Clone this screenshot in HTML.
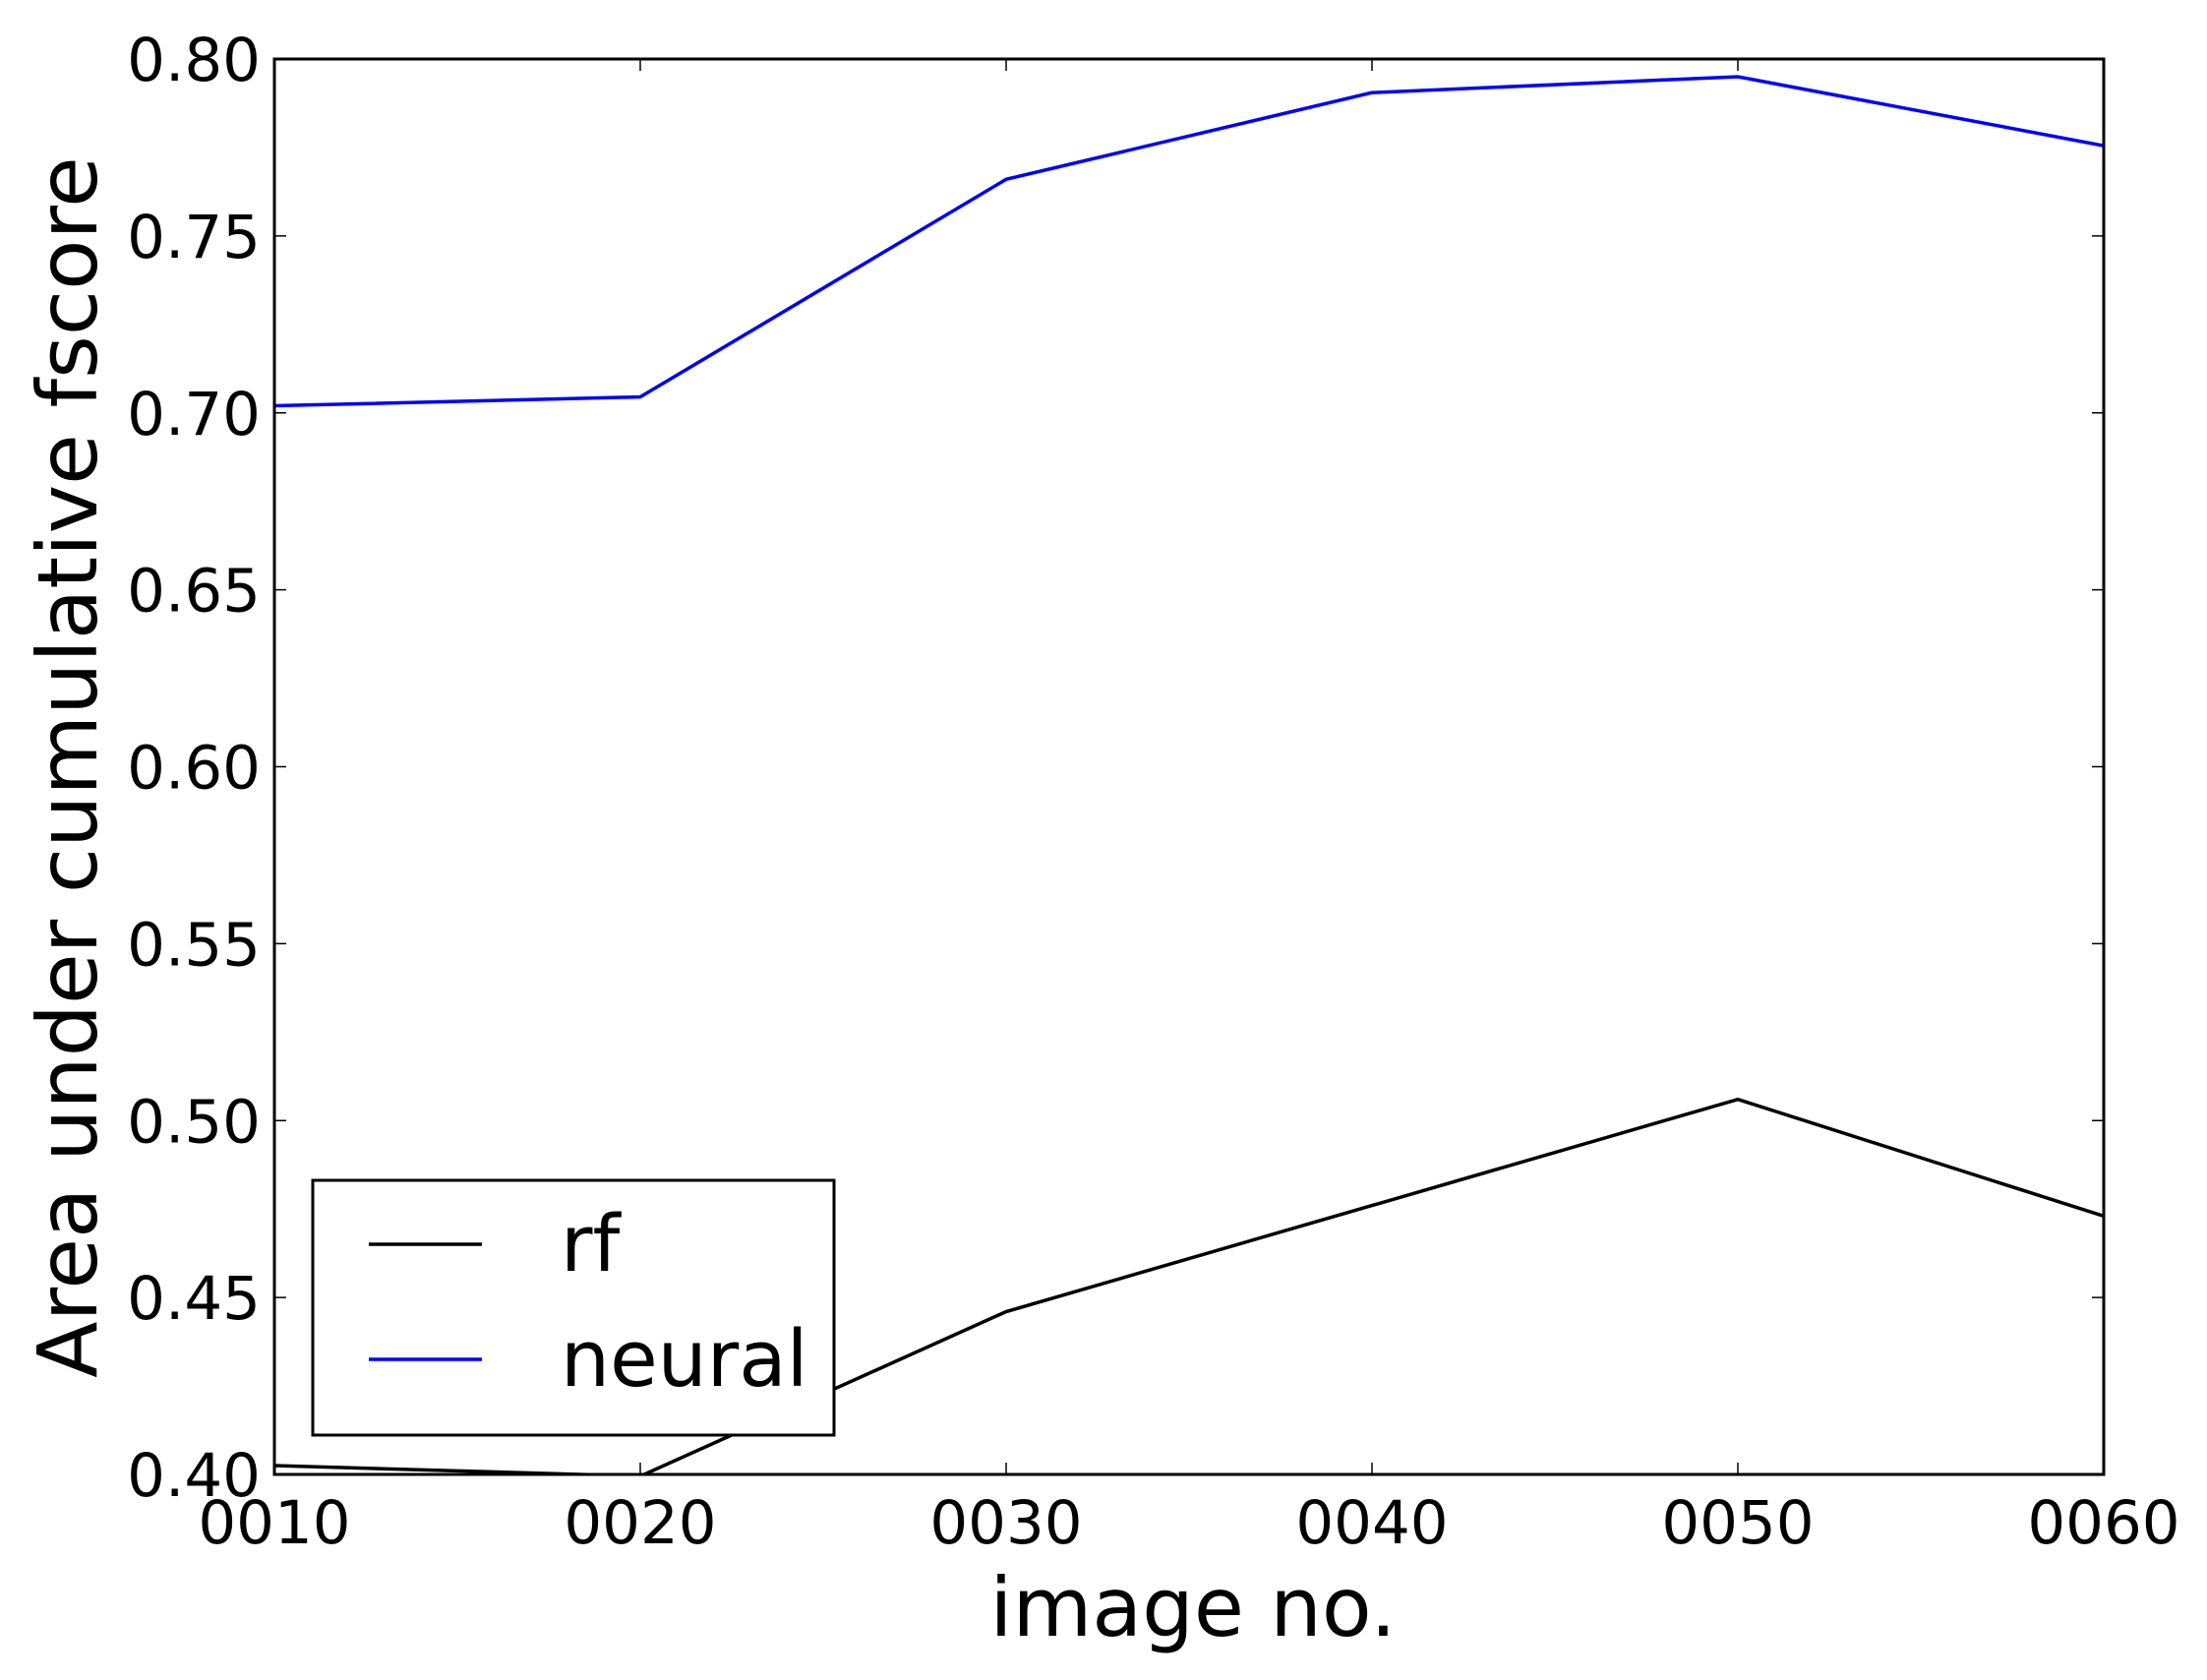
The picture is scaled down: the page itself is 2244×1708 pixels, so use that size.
<!DOCTYPE html>
<html><head><meta charset="utf-8"><style>
html,body{margin:0;padding:0;background:#fff;}
svg{display:block;font-family:"DejaVu Sans","Liberation Sans",sans-serif;}
</style></head><body>
<svg id="chart" width="2244" height="1708" viewBox="0 0 2244 1708" xmlns="http://www.w3.org/2000/svg">
<rect x="0" y="0" width="2244" height="1708" fill="#fff"/>
<g id="series"></g>
<g id="ticks"></g>
<rect x="279" y="60" width="1860" height="1439" fill="none" stroke="#000" stroke-width="3"/>
<g>
<rect x="318" y="1200" width="530" height="259" fill="#fff" stroke="#000" stroke-width="3"/>
<line x1="375" y1="1265" x2="490" y2="1265" stroke="#000" stroke-width="3.5"/>
<text x="570" y="1292" font-size="79">rf</text>
<line x1="375" y1="1382" x2="490" y2="1382" stroke="#0000ff" stroke-width="3.5"/>
<text x="570" y="1409" font-size="79">neural</text>
</g>
<text x="1213" y="1663" font-size="83" text-anchor="middle">image no.</text>
<text x="0" y="0" font-size="84" text-anchor="middle" transform="translate(98,780) rotate(-90)">Area under cumulative fscore</text>
</svg>
<script>
const categories = ["0010","0020","0030","0040","0050","0060"];
const rfValues = [0.4025, 0.3995, 0.446, 0.476, 0.506, 0.473];
const neuralValues = [0.702, 0.7045, 0.766, 0.7905, 0.795, 0.7755];
const yTicks = [0.40,0.45,0.50,0.55,0.60,0.65,0.70,0.75,0.80];
const yTickLabels = ["0.40","0.45","0.50","0.55","0.60","0.65","0.70","0.75","0.80"];

const L=279,R=2139,T=60,B=1499,yMin=0.40,yMax=0.80;
const xs=i=>L+(R-L)*i/(categories.length-1);
const ys=v=>B-(B-T)*(v-yMin)/(yMax-yMin);
const NS="http://www.w3.org/2000/svg";
const sg=document.getElementById('series'), tg=document.getElementById('ticks');
function mk(tag,attrs,parent){const e=document.createElementNS(NS,tag);for(const k in attrs)e.setAttribute(k,attrs[k]);parent.appendChild(e);return e;}

const clip=mk('clipPath',{id:'pc'},sg);
mk('rect',{x:L,y:T,width:R-L,height:B-T},clip);

function drawSeries(vals,color,name){
  const p=mk('polyline',{points:vals.map((v,i)=>xs(i)+','+ys(v)).join(' '),fill:'none',stroke:color,'stroke-width':3.5,'clip-path':'url(#pc)'},sg);
  
  
}
drawSeries(rfValues,'#000','rf-line');
drawSeries(neuralValues,'#0000ff','neural-line');

categories.forEach((c,i)=>{
  const x=xs(i);
  const t1=mk('line',{x1:x,y1:B,x2:x,y2:B-12,stroke:'#000','stroke-width':1.5},tg);
  
  
  const t2=mk('line',{x1:x,y1:T,x2:x,y2:T+12,stroke:'#000','stroke-width':1.5},tg);
  
  
  const lb=mk('text',{x:x,y:1569,'font-size':61,'text-anchor':'middle'},tg);
  lb.textContent=c;
  
  
});
yTicks.forEach((v,i)=>{
  const y=ys(v);
  const t1=mk('line',{x1:L,y1:y,x2:L+12,y2:y,stroke:'#000','stroke-width':1.5},tg);
  
  
  const t2=mk('line',{x1:R,y1:y,x2:R-12,y2:y,stroke:'#000','stroke-width':1.5},tg);
  
  
  const lb=mk('text',{x:265,y:y+22,'font-size':61,'text-anchor':'end'},tg);
  lb.textContent=yTickLabels[i];
  
  
});
</script>
</body></html>
